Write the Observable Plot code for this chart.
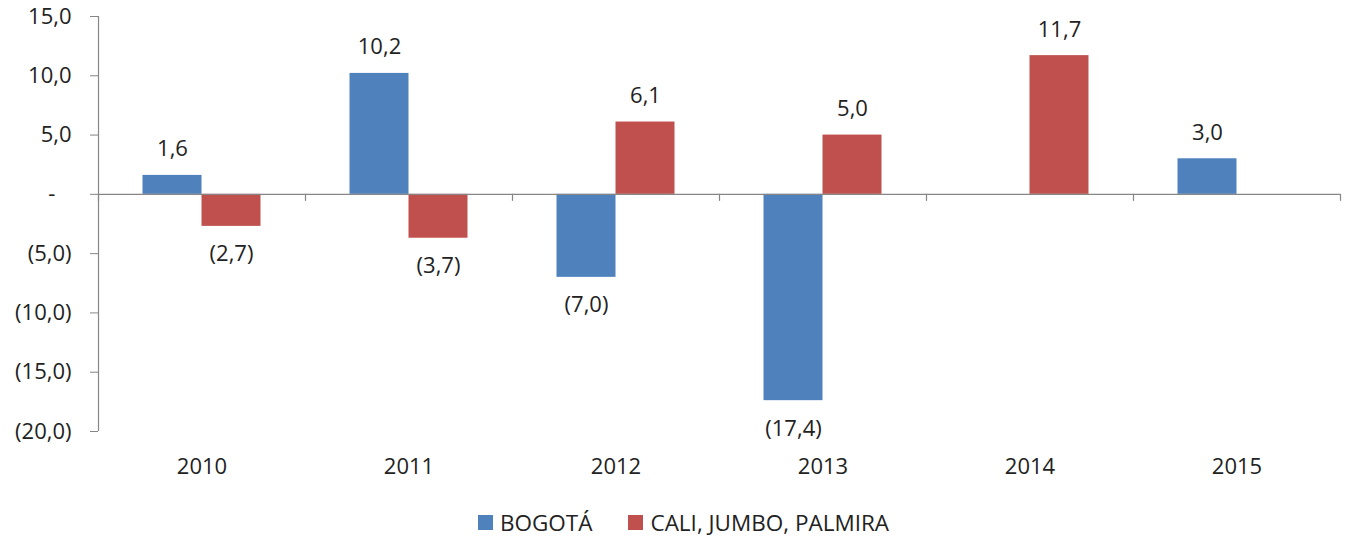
<!DOCTYPE html>
<html>
<head>
<meta charset="utf-8">
<script src="https://cdn.jsdelivr.net/npm/d3@7"></script>
<script src="https://cdn.jsdelivr.net/npm/@observablehq/plot@0.6"></script>
<style>
  html, body { margin: 0; padding: 0; background: #fff; }
  body { font-family: "Open Sans", sans-serif; color: #222; width: 1347px; }
  #legend { display: flex; justify-content: center; align-items: center; gap: 36px; height: 64px; padding-left: 20px; font-size: 22.5px; box-sizing: border-box; }
  .item { display: flex; align-items: center; gap: 7px; }
  .sw { width: 15px; height: 15px; display: inline-block; }
</style>
</head>
<body>
<div id="chart"></div>
<div id="legend"></div>
<script>
// ---- data ----
const years = [2010, 2011, 2012, 2013, 2014, 2015];
const seriesNames = ["BOGOTÁ", "CALI, JUMBO, PALMIRA"];
const bogota = [1.6, 10.2, -7.0, -17.4, null, 3.0];
const cali = [-2.7, -3.7, 6.1, 5.0, 11.7, null];
const seriesColors = ["#4F81BD", "#C0504D"];
const yTicks = [-20, -15, -10, -5, 0, 5, 10, 15];

// ---- table ----
const seriesValues = [bogota, cali];
const rows = years.flatMap((yr, i) =>
  seriesValues.map((vals, s) => ({year: yr, series: seriesNames[s], idx: s, value: vals[i]}))
).filter(d => d.value != null);

const halfW = 0.285; // bar width as fraction of a category band
const boundaries = [...years.map(y => y - 0.5), years[years.length - 1] + 0.5];
const xDomain = [boundaries[0], boundaries[boundaries.length - 1]];
const yDomain = [yTicks[0], yTicks[yTicks.length - 1]];

const dec = v => Math.abs(v).toFixed(1).replace(".", ",");
const fmt = v => v === 0 ? "-\u2007\u2009" : (v < 0 ? `(${dec(v)})` : dec(v));

const axisGray = "#868686";
const textCol = "#222";
const fs = 22;

const chart = Plot.plot({
  width: 1347,
  height: 490,
  marginLeft: 98,
  marginRight: 7,
  marginTop: 16,
  marginBottom: 59,
  style: {fontFamily: "'Open Sans', sans-serif", color: textCol, background: "#fff"},
  x: {domain: xDomain, axis: null},
  y: {domain: yDomain, axis: null},
  color: {domain: seriesNames, range: seriesColors},
  marks: [
    Plot.rectY(rows, {
      x1: d => d.year + (d.idx - 1) * halfW,
      x2: d => d.year + d.idx * halfW,
      y1: 0, y2: "value",
      fill: "series"
    }),
    Plot.ruleY([0], {stroke: axisGray, strokeWidth: 1.2}),
    Plot.ruleX([xDomain[0]], {y1: yDomain[0], y2: yDomain[1], stroke: axisGray, strokeWidth: 1.2}),
    Plot.ruleX(boundaries, {y1: 0, y2: 0, insetBottom: -7, stroke: axisGray, strokeWidth: 1.2}),
    Plot.axisY({ticks: yTicks, tickFormat: fmt, tickSize: 8, tickPadding: 19, fontSize: fs, stroke: axisGray, fill: textCol, label: null}),
    Plot.axisX({ticks: years, tickFormat: d => String(d), tickSize: 0, tickPadding: 27, fontSize: fs, fill: textCol, label: null}),
    Plot.text(rows.filter(d => d.value >= 0), {
      x: d => d.year + (d.idx - 0.5) * halfW,
      y: "value", text: d => fmt(d.value), dy: -26, fontSize: fs, fill: textCol
    }),
    Plot.text(rows.filter(d => d.value < 0), {
      x: d => d.year + (d.idx - 0.5) * halfW,
      y: "value", text: d => fmt(d.value), dy: 28, fontSize: fs, fill: textCol
    })
  ]
});
document.getElementById("chart").appendChild(chart);

const legend = document.getElementById("legend");
seriesNames.forEach((name, i) => {
  const item = document.createElement("div");
  item.className = "item";
  const sw = document.createElement("span");
  sw.className = "sw";
  sw.style.background = seriesColors[i];
  const lab = document.createElement("span");
  lab.textContent = name;
  item.appendChild(sw);
  item.appendChild(lab);
  legend.appendChild(item);
});
</script>
</body>
</html>
